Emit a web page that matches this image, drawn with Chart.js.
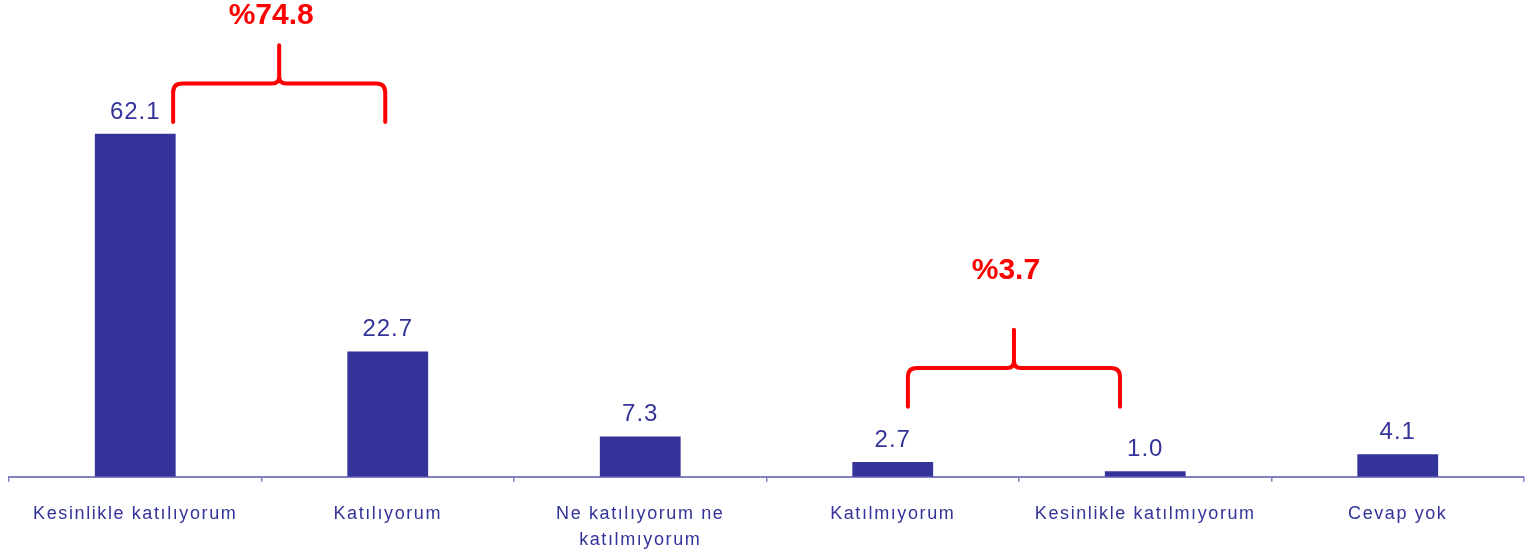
<!DOCTYPE html>
<html>
<head>
<meta charset="utf-8">
<script src="https://cdn.jsdelivr.net/npm/chart.js@4.4.1/dist/chart.umd.min.js"></script>
<style>
  html, body { margin: 0; padding: 0; background: #fff; }
  canvas { display: block; }
</style>
</head>
<body>
<canvas id="chart" width="1536" height="554"></canvas>
<script>
// categories and values
const categories = [
  'Kesinlikle katılıyorum',
  'Katılıyorum',
  ['Ne katılıyorum ne', 'katılmıyorum'],
  'Katılmıyorum',
  'Kesinlikle katılmıyorum',
  'Cevap yok'
];
const values = [62.1, 22.7, 7.3, 2.7, 1.0, 4.1];

// bracket annotations (x in category units, y in value units)
const braceLabels = ['%74.8', '%3.7'];
const braceFrom = [0.15, 3.06];
const braceTo = [0.99, 3.9];
const braceEnd = [64.2, 12.7];
const braceBar = [71.2, 19.7];
const braceTip = [78.1, 26.6];
const braceText = [83.4, 37.3];

const BLUE = '#333399';
const RED = '#ff0000';
const AXIS = '#8080c0';

function drawBrace(ctx, x1, x2, yEnd, yH, yTip) {
  const r = 9, r2 = 7;
  const xm = (x1 + x2) / 2;
  ctx.beginPath();
  ctx.moveTo(x1, yEnd);
  ctx.lineTo(x1, yH + r);
  ctx.quadraticCurveTo(x1, yH, x1 + r, yH);
  ctx.lineTo(xm - r2, yH);
  ctx.quadraticCurveTo(xm, yH, xm, yH - r2);
  ctx.lineTo(xm, yTip);
  ctx.moveTo(xm, yH - r2);
  ctx.quadraticCurveTo(xm, yH, xm + r2, yH);
  ctx.lineTo(x2 - r, yH);
  ctx.quadraticCurveTo(x2, yH, x2, yH + r);
  ctx.lineTo(x2, yEnd);
  ctx.stroke();
}

const extras = {
  id: 'extras',
  beforeDraw(chart) {
    chart.ctx.letterSpacing = '1.6px';
  },
  beforeDatasetsDraw(chart) {
    chart.ctx.letterSpacing = '0px';
  },
  afterDatasetsDraw(chart) {
    const ctx = chart.ctx;
    const xs = chart.scales.x, ys = chart.scales.y;
    const meta = chart.getDatasetMeta(0);

    ctx.save();
    ctx.letterSpacing = '1px';
    ctx.font = '24px "Liberation Sans", Arial, sans-serif';
    ctx.fillStyle = BLUE;
    ctx.textAlign = 'center';
    ctx.textBaseline = 'alphabetic';
    meta.data.forEach((bar, i) => {
      ctx.fillText(values[i].toFixed(1), bar.x, bar.y - 15);
    });
    ctx.restore();

    ctx.save();
    ctx.strokeStyle = RED;
    ctx.lineWidth = 4;
    ctx.lineCap = 'round';
    ctx.lineJoin = 'round';
    ctx.fillStyle = RED;
    ctx.font = 'bold 30px "Liberation Sans", Arial, sans-serif';
    ctx.textAlign = 'center';
    ctx.textBaseline = 'middle';
    braceLabels.forEach((lbl, i) => {
      const x1 = xs.getPixelForValue(braceFrom[i]);
      const x2 = xs.getPixelForValue(braceTo[i]);
      drawBrace(ctx, x1, x2, ys.getPixelForValue(braceEnd[i]),
        ys.getPixelForValue(braceBar[i]), ys.getPixelForValue(braceTip[i]));
      ctx.fillText(lbl, (x1 + x2) / 2 - 8, ys.getPixelForValue(braceText[i]));
    });
    ctx.restore();
  }
};

new Chart(document.getElementById('chart'), {
  type: 'bar',
  data: {
    labels: categories,
    datasets: [{
      data: values,
      backgroundColor: BLUE,
      borderWidth: 0,
      barPercentage: 0.8,
      categoryPercentage: 0.4
    }]
  },
  options: {
    responsive: false,
    animation: false,
    events: [],
    layout: { padding: { left: 9, right: 12, top: 0, bottom: -18 } },
    plugins: {
      legend: { display: false },
      tooltip: { enabled: false }
    },
    scales: {
      x: {
        grid: {
          display: true,
          drawOnChartArea: false,
          drawTicks: true,
          tickLength: 5,
          offset: true,
          color: AXIS,
          lineWidth: 1.5
        },
        border: { display: true, color: AXIS, width: 2 },
        ticks: {
          color: BLUE,
          padding: 19,
          maxRotation: 0,
          autoSkip: false,
          font: { family: '"Liberation Sans", Arial, sans-serif', size: 18, lineHeight: 1.45 }
        }
      },
      y: {
        display: false,
        min: 0,
        max: 86.3
      }
    }
  },
  plugins: [extras]
});
</script>
</body>
</html>
